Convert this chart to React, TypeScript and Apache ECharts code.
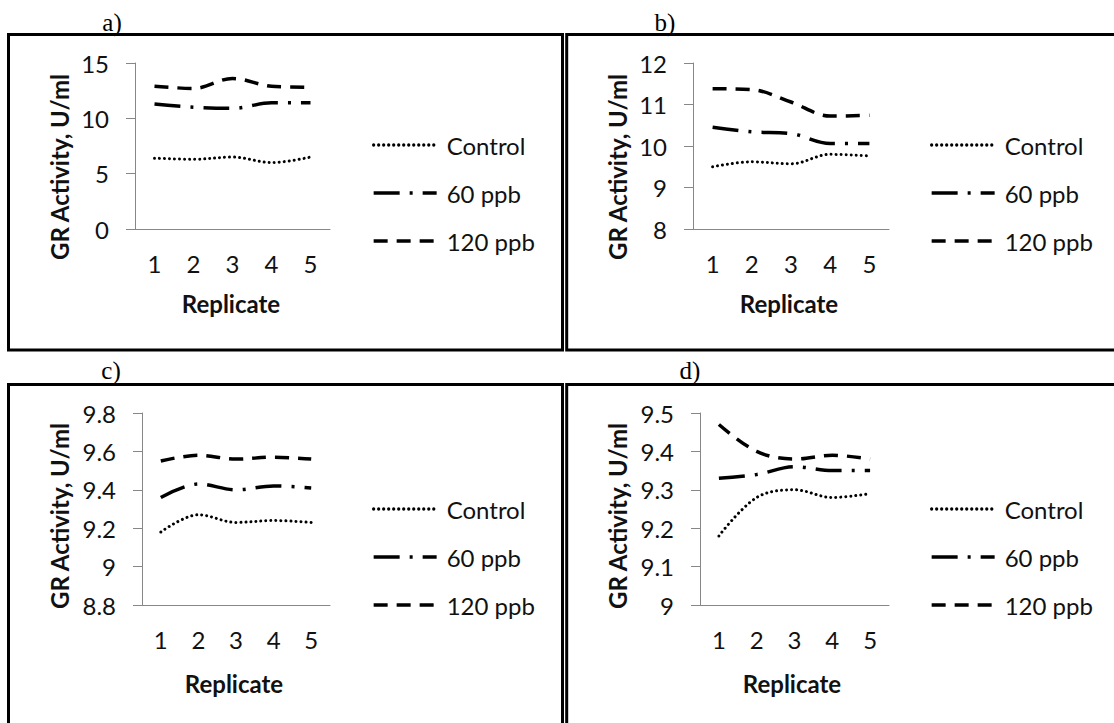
import React, { useEffect, useRef } from "react";
import * as echarts from "echarts";

const categories = ["1", "2", "3", "4", "5"];
const seriesNames = ["Control", "60 ppb", "120 ppb"];

const aControl = [6.4, 6.3, 6.5, 6.0, 6.5];
const a60 = [11.3, 11.0, 10.9, 11.4, 11.4];
const a120 = [12.9, 12.7, 13.6, 12.9, 12.8];

const bControl = [9.5, 9.62, 9.57, 9.8, 9.76];
const b60 = [10.45, 10.34, 10.3, 10.06, 10.06];
const b120 = [11.38, 11.36, 11.06, 10.72, 10.74];

const cControl = [9.18, 9.27, 9.23, 9.24, 9.23];
const c60 = [9.36, 9.43, 9.4, 9.42, 9.41];
const c120 = [9.55, 9.58, 9.56, 9.57, 9.56];

const dControl = [9.18, 9.28, 9.3, 9.28, 9.29];
const d60 = [9.33, 9.34, 9.36, 9.35, 9.35];
const d120 = [9.47, 9.4, 9.38, 9.39, 9.38];

const panelLabels = ["a)", "b)", "c)", "d)"];
const yRanges = [
  { min: 0, max: 15, interval: 5 },
  { min: 8, max: 12, interval: 1 },
  { min: 8.8, max: 9.8, interval: 0.2 },
  { min: 9, max: 9.5, interval: 0.1 },
];
const panelData = [
  [aControl, a60, a120],
  [bControl, b60, b120],
  [cControl, c60, c120],
  [dControl, d60, d120],
];

const yTitle = "GR Activity, U/ml";
const xTitle = "Replicate";

// layout
const grids = [
  { left: 135, top: 63, width: 195, height: 166 },
  { left: 693, top: 63, width: 196, height: 166 },
  { left: 142, top: 413, width: 188, height: 192 },
  { left: 700, top: 413, width: 189, height: 192 },
];
const legendPos = [
  { left: 372, top: 133 },
  { left: 930, top: 133 },
  { left: 372, top: 497 },
  { left: 930, top: 497 },
];
const yTitlePos = [
  [59, 167],
  [617, 167],
  [59, 516],
  [617, 516],
];
const xTitlePos = [
  [231, 303],
  [789, 303],
  [234, 683],
  [792, 683],
];
const labelPos = [
  [112, 22],
  [665, 22],
  [111, 370],
  [690, 370],
];

const FONT = "Lato, 'Open Sans', sans-serif";

const lineStyles = [
  { type: [0.01, 5], width: 3, cap: "round" },
  { type: [26, 10, 3, 10], width: 3.5 },
  { type: [14, 9], width: 3.5 },
];

export default function App() {
  const ref = useRef<HTMLDivElement>(null);
  useEffect(() => {
    if (!ref.current) return;
    const chart = echarts.init(ref.current, null, { renderer: "svg" });

    const xAxis = grids.map((_, i) => ({
      type: "category",
      gridIndex: i,
      data: categories,
      boundaryGap: true,
      axisLine: { show: true, lineStyle: { color: "#878787", width: 1 } },
      axisTick: { show: false },
      axisLabel: { margin: 22, fontSize: 24, fontFamily: FONT, color: "#111" },
      splitLine: { show: false },
    }));
    const yAxis = grids.map((_, i) => ({
      type: "value",
      gridIndex: i,
      min: yRanges[i].min,
      max: yRanges[i].max,
      interval: yRanges[i].interval,
      axisLine: { show: true, lineStyle: { color: "#878787", width: 1 } },
      axisTick: { show: true, length: 9, lineStyle: { color: "#878787" } },
      axisLabel: { margin: 26, fontSize: 24, fontFamily: FONT, color: "#111" },
      splitLine: { show: false },
    }));

    const series: any[] = [];
    panelData.forEach((set, p) => {
      set.forEach((vals, s) => {
        series.push({
          type: "line",
          name: seriesNames[s],
          xAxisIndex: p,
          yAxisIndex: p,
          data: vals,
          smooth: 0.35,
          symbol: "none",
          showSymbol: false,
          lineStyle: { color: "#000", ...lineStyles[s] },
          itemStyle: { color: "#000" },
        });
      });
    });

    const legend = legendPos.map((pos) => ({
      left: pos.left,
      top: pos.top,
      orient: "vertical",
      padding: 0,
      itemWidth: 63,
      itemHeight: 24,
      itemGap: 24,
      data: seriesNames,
      selectedMode: false,
      itemStyle: { opacity: 0, borderWidth: 0 },
      lineStyle: { width: 3.3 },
      textStyle: {
        fontSize: 24,
        fontFamily: FONT,
        color: "#111",
        lineHeight: 24,
        padding: [0, 0, 0, 5],
      },
    }));

    const graphic: any[] = [];
    const border = (x: number, y: number, w: number, h: number) => ({
      type: "rect",
      shape: { x, y, width: w, height: h },
      style: { fill: "none", stroke: "#000", lineWidth: 3 },
      silent: true,
    });
    graphic.push(border(8.5, 34.5, 554, 315.5));
    graphic.push(border(566.7, 34.5, 600, 315.5));
    graphic.push(border(8.5, 384.5, 554, 400));
    graphic.push(border(566.7, 384.5, 600, 400));

    panelLabels.forEach((t, i) => {
      graphic.push({
        type: "text",
        x: labelPos[i][0],
        y: labelPos[i][1],
        style: {
          text: t,
          font: "25px 'Liberation Serif', serif",
          fill: "#000",
          align: "center",
          verticalAlign: "middle",
        },
      });
      graphic.push({
        type: "text",
        x: yTitlePos[i][0],
        y: yTitlePos[i][1],
        rotation: Math.PI / 2,
        style: {
          text: yTitle,
          fontSize: 24,
          fontWeight: "bold",
          fontFamily: FONT,
          fill: "#111",
          align: "center",
          verticalAlign: "middle",
        },
      });
      graphic.push({
        type: "text",
        x: xTitlePos[i][0],
        y: xTitlePos[i][1],
        style: {
          text: xTitle,
          fontSize: 24,
          fontWeight: "bold",
          fontFamily: FONT,
          fill: "#111",
          align: "center",
          verticalAlign: "middle",
        },
      });
    });

    chart.setOption({
      animation: false,
      backgroundColor: "#fff",
      grid: grids.map((g) => ({ ...g, containLabel: false })),
      xAxis,
      yAxis,
      legend,
      series,
      graphic,
    });
    return () => chart.dispose();
  }, []);

  return (
    <div
      ref={ref}
      style={{ position: "fixed", left: 0, top: 0, width: 1114, height: 723, background: "#fff" }}
    />
  );
}
